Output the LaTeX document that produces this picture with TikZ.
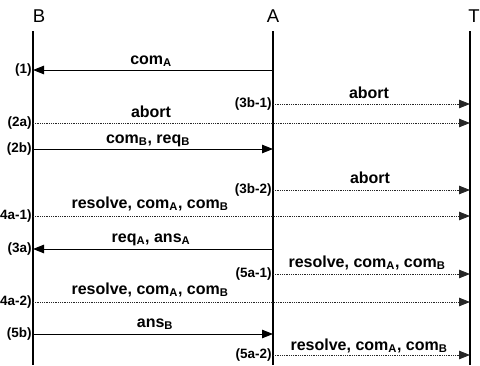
\documentclass[tikz,border=0pt]{standalone}
\usepackage{fontspec}
\setmainfont{Liberation Sans}
\usetikzlibrary{arrows.meta}
\tikzset{
  lifeline/.style={line width=1.1pt},
  head/.style={font=\fontsize{18.5}{20}\selectfont, inner sep=0pt},
  msg/.style={line width=1pt, -{Triangle[length=11pt,width=8.5pt]}},
  dotmsg/.style={line width=0.8pt, black!85, dash pattern=on 0.9pt off 0.9pt,
    -{Triangle[length=11pt,width=8.5pt]}},
  lbl/.style={font=\fontsize{16}{18}\selectfont\bfseries, anchor=base, inner sep=0pt},
  step label/.style={font=\fontsize{13.5}{15}\selectfont\bfseries, anchor=east, inner sep=1.2pt}
}
\begin{document}
\begin{tikzpicture}[x=1pt, y=-1pt]
  \useasboundingbox (0,0) rectangle (480,365);
  % lifeline heads
  \node[head] (B) at (39,16) {B};
  \node[head] (A) at (273,16) {A};
  \node[head] (T) at (474,16) {T};
  % lifelines
  \coordinate (Btop) at (33,31);  \coordinate (Bbot) at (33,365);
  \coordinate (Atop) at (273,31); \coordinate (Abot) at (273,365);
  \coordinate (Ttop) at (470,31); \coordinate (Tbot) at (470,365);
  \draw[lifeline] (Btop) -- (Bbot);
  \draw[lifeline] (Atop) -- (Abot);
  \draw[lifeline] (Ttop) -- (Tbot);
  % message end points on each lifeline
  \foreach \n/\y in {1/70, 2/104, 3/123, 4/149, 5/190, 6/216, 7/249, 8/274, 9/302, 10/334, 11/355} {
    \coordinate (B\n) at (33,\y);
    \coordinate (A\n) at (273,\y);
    \coordinate (T\n) at (470,\y);
  }
  % (1)
  \draw[msg] (A1) -- (B1);
  \node[lbl] (l1) at (151,64) {com\textsubscript{A}};
  \node[step label] (s1) at (B1) {(1)};
  % (3b-1)
  \draw[dotmsg] (A2) -- (T2);
  \node[lbl] (l2) at (369,98) {abort};
  \node[step label] (s2) at (A2) {(3b-1)};
  % (2a)
  \draw[dotmsg] (B3) -- (T3);
  \node[lbl] (l3) at (151,117) {abort};
  \node[step label] (s3) at (B3) {(2a)};
  % (2b)
  \draw[msg] (B4) -- (A4);
  \node[lbl] (l4) at (148,143) {com\textsubscript{B}, req\textsubscript{B}};
  \node[step label] (s4) at (B4) {(2b)};
  % (3b-2)
  \draw[dotmsg] (A5) -- (T5);
  \node[lbl] (l5) at (370,183) {abort};
  \node[step label] (s5) at (A5) {(3b-2)};
  % (4a-1)
  \draw[dotmsg] (B6) -- (T6);
  \node[lbl] (l6) at (150,208) {resolve, com\textsubscript{A}, com\textsubscript{B}};
  \node[step label] (s6) at (B6) {(4a-1)};
  % (3a)
  \draw[msg] (A7) -- (B7);
  \node[lbl] (l7) at (151,242) {req\textsubscript{A}, ans\textsubscript{A}};
  \node[step label] (s7) at (B7) {(3a)};
  % (5a-1)
  \draw[dotmsg] (A8) -- (T8);
  \node[lbl] (l8) at (367,267) {resolve, com\textsubscript{A}, com\textsubscript{B}};
  \node[step label] (s8) at (A8) {(5a-1)};
  % (4a-2)
  \draw[dotmsg] (B9) -- (T9);
  \node[lbl] (l9) at (150,294) {resolve, com\textsubscript{A}, com\textsubscript{B}};
  \node[step label] (s9) at (B9) {(4a-2)};
  % (5b)
  \draw[msg] (B10) -- (A10);
  \node[lbl] (l10) at (155,327) {ans\textsubscript{B}};
  \node[step label] (s10) at (B10) {(5b)};
  % (5a-2)
  \draw[dotmsg] (A11) -- (T11);
  \node[lbl] (l11) at (369,350) {resolve, com\textsubscript{A}, com\textsubscript{B}};
  \node[step label] (s11) at (A11) {(5a-2)};
\end{tikzpicture}
\end{document}
